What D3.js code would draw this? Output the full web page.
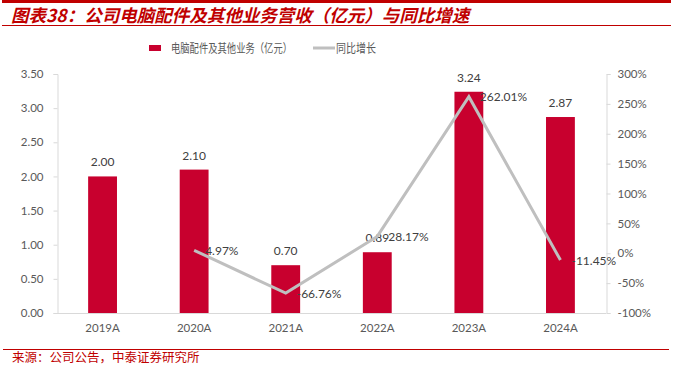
<!DOCTYPE html>
<html>
<head>
<meta charset="utf-8">
<script src="https://cdn.jsdelivr.net/npm/d3@7"></script>
<style>
  body { margin: 0; background: #fff; }
  text { font-family: Lato, "Noto Sans CJK SC", sans-serif; }
</style>
</head>
<body>
<div id="canvas"></div>
<script>
"use strict"

// data
let years = ["2019A", "2020A", "2021A", "2022A", "2023A", "2024A"];
let revenue = [2.00, 2.10, 0.70, 0.89, 3.24, 2.87];
let growth = [null, 4.97, -66.76, 28.17, 262.01, -11.45];
let leftTicks = [0, 0.5, 1, 1.5, 2, 2.5, 3, 3.5];
let rightTicks = [-100, -50, 0, 50, 100, 150, 200, 250, 300];

let red = "#C00000";
let barRed = "#C8002E";
let grey = "#BFBFBF";
let textGrey = "#595959";

let drawing = d3.select("#canvas")
    .append("svg")
    .attr("width", 673)
    .attr("height", 370);

/* ---------- header and footer rules ---------- */
drawing.append("rect")
    .attr("x", 2).attr("y", 0).attr("width", 669).attr("height", 3)
    .attr("fill", red);

drawing.append("line")
    .attr("x1", 2).attr("y1", 25.5).attr("x2", 671).attr("y2", 25.5)
    .attr("stroke", red).attr("stroke-width", 1);

drawing.append("text")
    .attr("x", 11).attr("y", 22)
    .attr("fill", red)
    .attr("font-size", 17.5)
    .attr("font-weight", "bold")
    .attr("font-style", "italic")
    .style("font-family", "'Noto Sans CJK SC', sans-serif")
    .text("图表38：公司电脑配件及其他业务营收（亿元）与同比增速");

drawing.append("line")
    .attr("x1", 3).attr("y1", 349.5).attr("x2", 669).attr("y2", 349.5)
    .attr("stroke", red).attr("stroke-width", 1);

drawing.append("text")
    .attr("x", 12).attr("y", 362)
    .attr("fill", red)
    .attr("font-size", 12.5)
    .style("font-family", "'Noto Sans CJK SC', sans-serif")
    .text("来源：公司公告，中泰证券研究所");

/* ---------- scales ---------- */
let x = d3.scaleBand().domain(years).range([57, 606]).paddingInner(0.685).paddingOuter(0.34);
let yLeft = d3.scaleLinear().domain([0, 3.5]).range([313, 74]);
let yRight = d3.scaleLinear().domain([-100, 300]).range([313, 74]);

/* ---------- axes ---------- */
let leftAxis = drawing.append("g")
    .attr("transform", "translate(57.5,0)")
    .call(d3.axisLeft(yLeft).tickValues(leftTicks).tickFormat(d3.format(".2f")).tickSizeOuter(0).tickSize(4).tickPadding(10));

let rightAxis = drawing.append("g")
    .attr("transform", "translate(606.5,0)")
    .call(d3.axisRight(yRight).tickValues(rightTicks).tickFormat(d => d + "%").tickSizeOuter(0).tickSize(4).tickPadding(7));

let bottomAxis = drawing.append("g")
    .attr("transform", "translate(0,313.5)")
    .call(d3.axisBottom(x).tickSize(0).tickSizeOuter(0).tickPadding(10));

[leftAxis, rightAxis, bottomAxis].forEach(function (g) {
  g.select(".domain").attr("stroke", "#D9D9D9");
  g.selectAll(".tick line").attr("stroke", "#D9D9D9");
  g.selectAll(".tick text").attr("fill", textGrey).attr("font-size", 11.5)
    .style("font-family", "Lato, sans-serif");
});
bottomAxis.select(".domain").attr("d", "M57,0H606");

/* ---------- bars ---------- */
drawing.append("g").selectAll("rect")
    .data(revenue)
    .join("rect")
    .attr("x", (d, i) => x(years[i]))
    .attr("y", d => yLeft(d))
    .attr("width", x.bandwidth())
    .attr("height", d => yLeft(0) - yLeft(d))
    .attr("fill", barRed);

drawing.append("g").selectAll("text")
    .data(revenue)
    .join("text")
    .attr("x", (d, i) => x(years[i]) + x.bandwidth() / 2)
    .attr("y", d => yLeft(d) - 10)
    .attr("text-anchor", "middle")
    .attr("fill", "#404040")
    .attr("font-size", 12)
    .text(d => d.toFixed(2));

/* ---------- growth line ---------- */
let pts = growth.map((g, i) => ({ year: years[i], g: g })).filter(p => p.g !== null);

let line = d3.line()
    .x(p => x(p.year) + x.bandwidth() / 2)
    .y(p => yRight(p.g));

drawing.append("path")
    .datum(pts)
    .attr("d", line)
    .attr("fill", "none")
    .attr("stroke", grey)
    .attr("stroke-width", 3);

drawing.append("g").selectAll("text")
    .data(pts)
    .join("text")
    .attr("x", p => x(p.year) + x.bandwidth() / 2 + 11)
    .attr("y", p => yRight(p.g) + 4.5)
    .attr("fill", "#404040")
    .attr("font-size", 12)
    .text(p => p.g.toFixed(2) + "%");

/* ---------- legend ---------- */
let legend = drawing.append("g").attr("transform", "translate(0,48)");
legend.append("rect")
    .attr("x", 149).attr("y", -3).attr("width", 12).attr("height", 6)
    .attr("fill", barRed);
legend.append("text")
    .attr("x", 171).attr("y", 4.5)
    .attr("fill", textGrey).attr("font-size", 12)
    .attr("textLength", 121).attr("lengthAdjust", "spacingAndGlyphs")
    .style("font-family", "'Noto Sans CJK SC', sans-serif")
    .text("电脑配件及其他业务（亿元）");
legend.append("line")
    .attr("x1", 313).attr("y1", 0).attr("x2", 335).attr("y2", 0)
    .attr("stroke", grey).attr("stroke-width", 3);
legend.append("text")
    .attr("x", 336).attr("y", 4.5)
    .attr("fill", textGrey).attr("font-size", 12)
    .attr("textLength", 40).attr("lengthAdjust", "spacingAndGlyphs")
    .style("font-family", "'Noto Sans CJK SC', sans-serif")
    .text("同比增长");
</script>
</body>
</html>
